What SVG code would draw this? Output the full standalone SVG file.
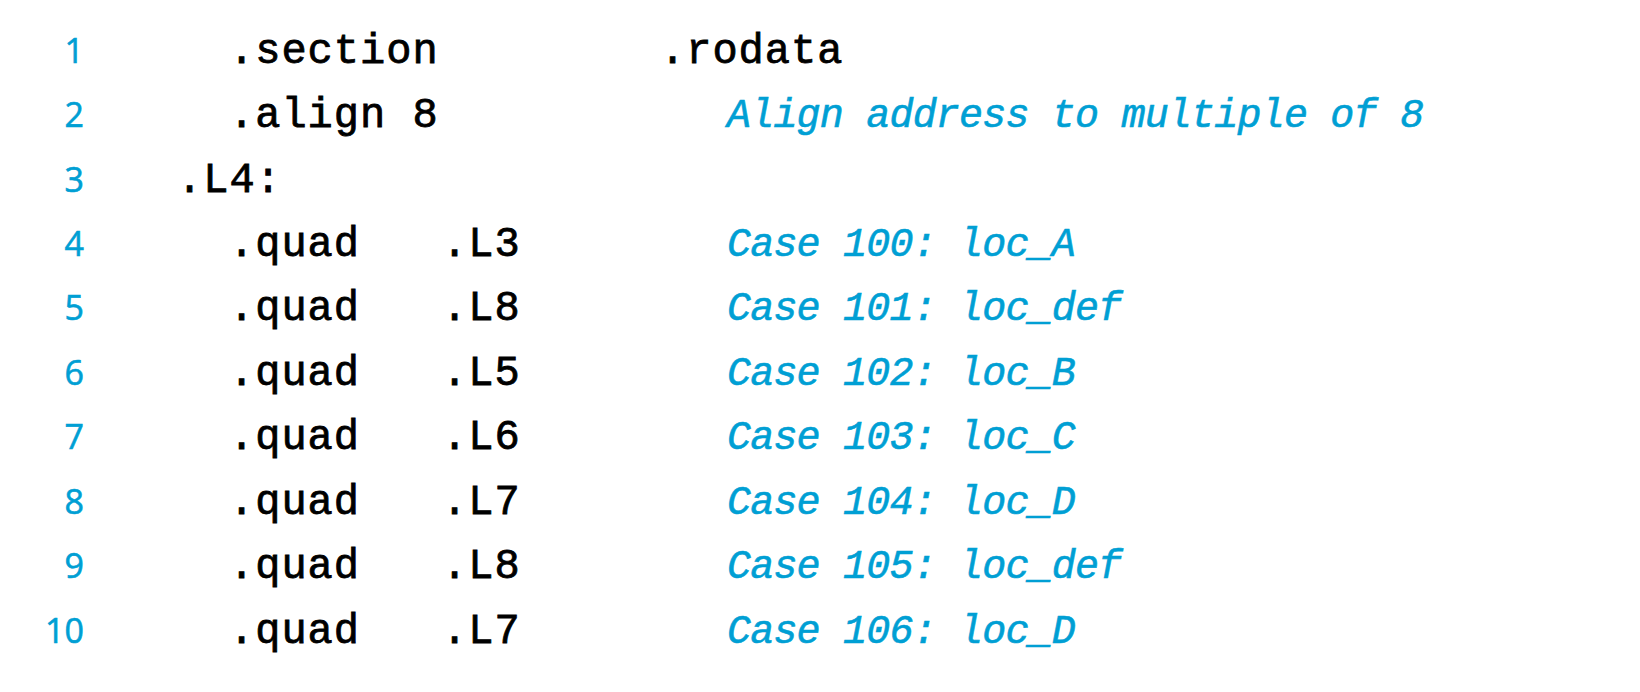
<svg xmlns="http://www.w3.org/2000/svg" width="1640" height="692" viewBox="0 0 1640 692">
<style>
.num{font-family:"Open Sans","Liberation Sans",sans-serif;font-size:34px;fill:#009FD4;stroke:#009FD4;stroke-width:0.6px;text-anchor:end}
.code{font-family:"Liberation Mono",monospace;font-size:42px;letter-spacing:1px;fill:#000;stroke:#000;stroke-width:0.8px}
.cmt{font-family:"Liberation Mono",monospace;font-size:40px;font-style:italic;letter-spacing:-0.8px;fill:#009FD4;stroke:#009FD4;stroke-width:0.6px}
</style>
<rect width="1640" height="692" fill="#fff"/>
<g id="line1"><text class="num" x="84" y="63">1</text><text class="code" x="229" y="63">.section</text><text class="code" x="660" y="63">.rodata</text></g>
<g id="line2"><text class="num" x="84" y="127">2</text><text class="code" x="229" y="127">.align 8</text><text class="cmt" x="727" y="127">Align address to multiple of 8</text></g>
<g id="line3"><text class="num" x="84" y="192">3</text><text class="code" x="177" y="192">.L4:</text></g>
<g id="line4"><text class="num" x="84" y="256">4</text><text class="code" x="229" y="256">.quad</text><text class="code" x="442" y="256">.L3</text><text class="cmt" x="727" y="256">Case 100: loc_A</text></g>
<g id="line5"><text class="num" x="84" y="320">5</text><text class="code" x="229" y="320">.quad</text><text class="code" x="442" y="320">.L8</text><text class="cmt" x="727" y="320">Case 101: loc_def</text></g>
<g id="line6"><text class="num" x="84" y="385">6</text><text class="code" x="229" y="385">.quad</text><text class="code" x="442" y="385">.L5</text><text class="cmt" x="727" y="385">Case 102: loc_B</text></g>
<g id="line7"><text class="num" x="84" y="449">7</text><text class="code" x="229" y="449">.quad</text><text class="code" x="442" y="449">.L6</text><text class="cmt" x="727" y="449">Case 103: loc_C</text></g>
<g id="line8"><text class="num" x="84" y="514">8</text><text class="code" x="229" y="514">.quad</text><text class="code" x="442" y="514">.L7</text><text class="cmt" x="727" y="514">Case 104: loc_D</text></g>
<g id="line9"><text class="num" x="84" y="578">9</text><text class="code" x="229" y="578">.quad</text><text class="code" x="442" y="578">.L8</text><text class="cmt" x="727" y="578">Case 105: loc_def</text></g>
<g id="line10"><text class="num" x="84" y="643">10</text><text class="code" x="229" y="643">.quad</text><text class="code" x="442" y="643">.L7</text><text class="cmt" x="727" y="643">Case 106: loc_D</text></g>
</svg>
